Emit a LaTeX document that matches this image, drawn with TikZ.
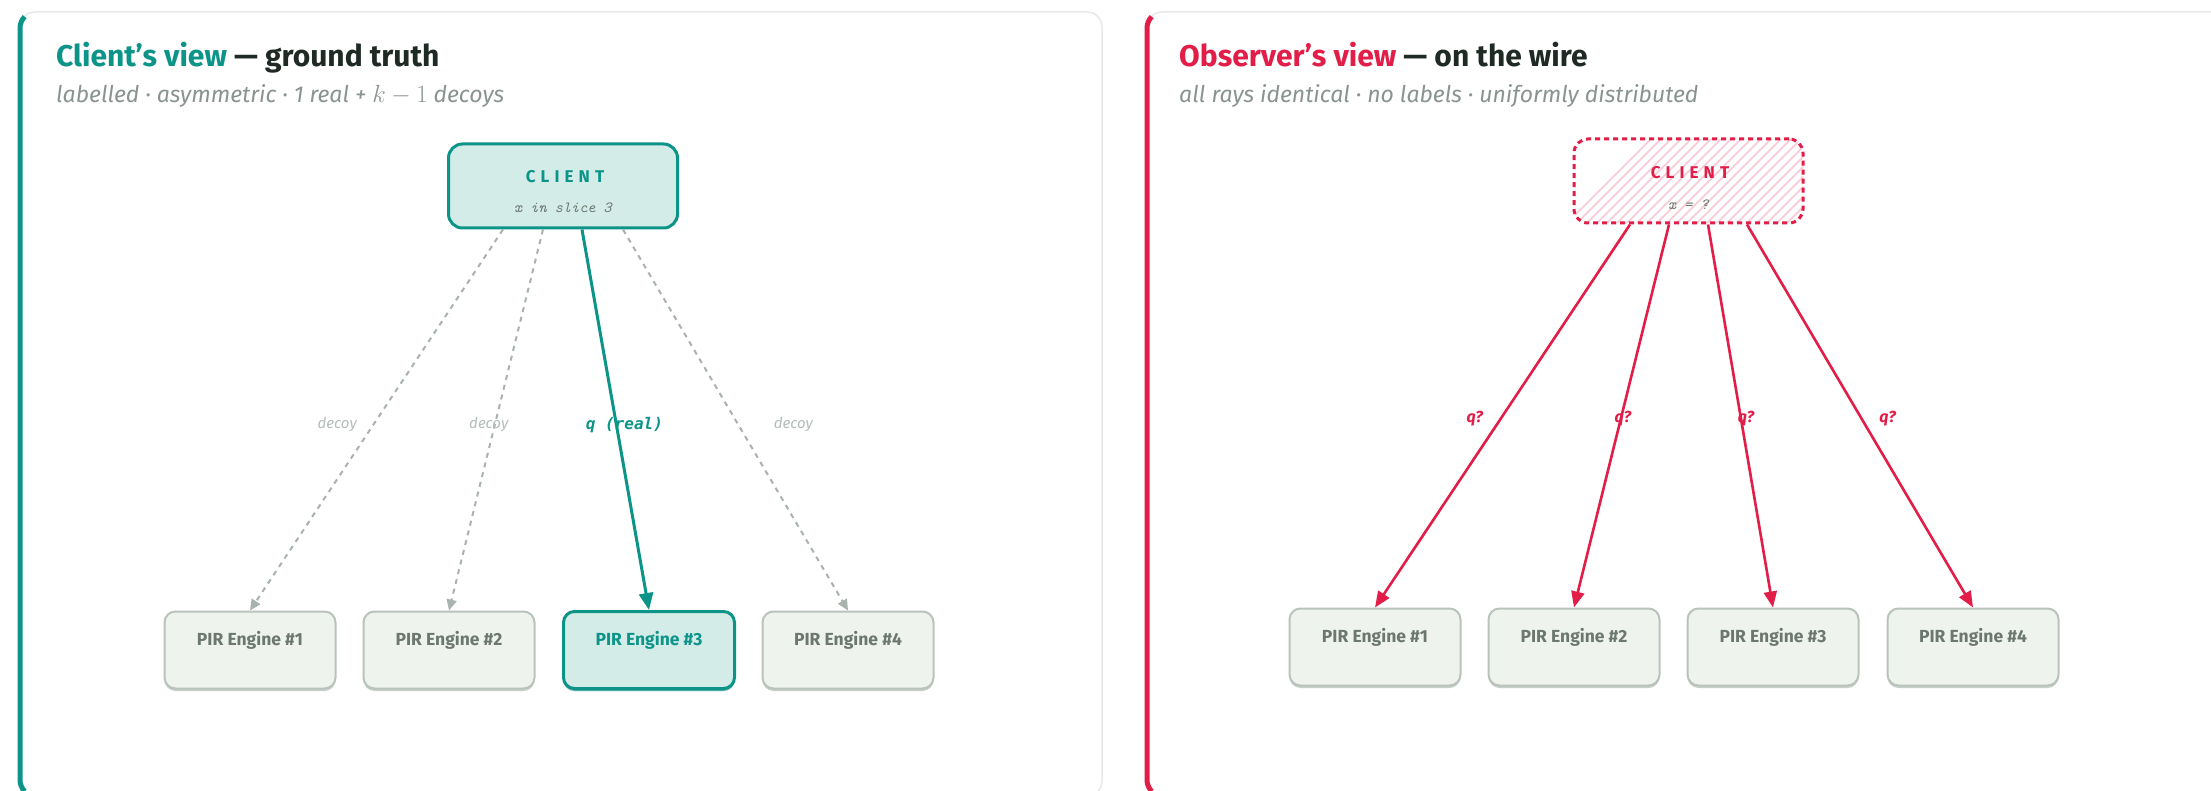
\documentclass[tikz,border=0pt]{standalone}
\usepackage{fontspec}
\setmainfont{Fira Sans}
\newfontfamily\codefont{DejaVu Sans Mono}
\usetikzlibrary{arrows.meta,calc,shadows}

\definecolor{tealc}{HTML}{0D9488}
\definecolor{rosec}{HTML}{E11D48}
\definecolor{ink}{HTML}{1F2A24}
\definecolor{muted}{HTML}{8A948E}
\definecolor{engfill}{HTML}{EEF3EE}
\definecolor{engdraw}{HTML}{B9C3BC}
\definecolor{engtext}{HTML}{6B7770}
\definecolor{clfill}{HTML}{D3ECE8}
\definecolor{decoyc}{HTML}{A9B3AD}
\definecolor{decoytext}{HTML}{B4BDB7}
\definecolor{hatch}{HTML}{F9C9D5}
\definecolor{panelline}{HTML}{E6E9EC}
\definecolor{shadowc}{HTML}{C8CFCA}

\tikzset{
  panel/.style={draw=panelline, line width=1.5pt, fill=white, rounded corners=15pt},
  titletext/.style={anchor=base west, inner sep=0pt, font=\fontsize{30}{33}\selectfont\bfseries, text=ink},
  subtext/.style={anchor=base west, inner sep=0pt, font=\fontsize{23}{26}\selectfont\itshape, text=muted},
  clientbox/.style={rounded corners=14pt, minimum width=229pt, minimum height=84pt, inner sep=0pt},
  engine/.style={draw=engdraw, line width=2pt, fill=engfill, rounded corners=11pt,
    minimum width=171pt, minimum height=77pt, inner sep=0pt, text height=12pt, text depth=21pt,
    font=\fontsize{17.5}{20}\selectfont\bfseries, text=engtext,
    general shadow={fill=shadowc, shadow yshift=-2.5pt}},
  hotengine/.style={engine, draw=tealc, line width=3pt, fill=clfill, text=tealc,
    general shadow={fill=tealc!70, shadow yshift=-2.5pt}},
  decoyarrow/.style={draw=decoyc, line width=2pt, dash pattern=on 5pt off 5pt,
    -{Triangle[length=11pt, width=10pt, fill=decoyc]}},
  realarrow/.style={draw=tealc, line width=3pt, -{Triangle[length=17pt, width=14pt]}},
  wirearrow/.style={draw=rosec, line width=2.6pt, -{Triangle[length=16pt, width=13pt]}},
  decoylabel/.style={font=\fontsize{15}{17}\selectfont\itshape, text=decoytext, inner sep=0pt},
  reallabel/.style={font=\codefont\fontsize{16}{18}\selectfont\bfseries\itshape, text=tealc, inner sep=0pt},
  wirelabel/.style={font=\fontsize{16}{18}\selectfont\bfseries\itshape, text=rosec, inner sep=0pt},
  capsline/.style={font=\fontsize{17}{19}\selectfont\bfseries\addfontfeature{LetterSpace=30}, inner sep=0pt},
  monoline/.style={font=\ttfamily\itshape\fontsize{15.5}{17}\selectfont, text=engtext, inner sep=0pt},
}

\begin{document}
\begin{tikzpicture}[x=1pt, y=-1pt]
\useasboundingbox (0,0) rectangle (2211,791);
\fill[white] (0,0) rectangle (2211,791);

% ---------- panels ----------
\draw[panel] (20,12) rectangle (1102,796);
\draw[panel] (1147,12) rectangle (2240,796);
% coloured left edges
\draw[tealc, line width=5pt]
  (24.7,791.3) .. controls (21.7,788.3) and (20,784.2) .. (20,780)
  -- (20,28) .. controls (20,23.8) and (21.7,19.7) .. (24.7,16.7);
\draw[rosec, line width=5pt]
  (1151.7,791.3) .. controls (1148.7,788.3) and (1147,784.2) .. (1147,780)
  -- (1147,28) .. controls (1147,23.8) and (1148.7,19.7) .. (1151.7,16.7);

% ---------- headings ----------
\node[titletext] (t1) at (56,67) {\textcolor{tealc}{Client’s view} — ground truth};
\node[subtext] (s1) at (56,103) {labelled · asymmetric · 1 real + {\fontsize{27}{30}\selectfont$k-1$} decoys};
\node[titletext] (t2) at (1179,67) {\textcolor{rosec}{Observer’s view} — on the wire};
\node[subtext] (s2) at (1179,103) {all rays identical · no labels · uniformly distributed};

% ---------- client's view ----------
\node[clientbox, draw=tealc, line width=3pt, fill=clfill] (cl) at (563,186) {};
\node[capsline, text=tealc] (clname) at (565,177) {CLIENT};
\node[monoline] (clx) at (563,208) {x in slice 3};

\node[engine]    (a1) at (250,650) {PIR Engine \#1};
\node[engine]    (a2) at (449,650) {PIR Engine \#2};
\node[hotengine] (a3) at (649,650) {PIR Engine \#3};
\node[engine]    (a4) at (848,650) {PIR Engine \#4};

\draw[decoyarrow] ($(cl.south)+(-60,0)$) -- (a1.north)
  node[decoylabel, pos=0.513, xshift=-36pt] (d1) {decoy};
\draw[decoyarrow] ($(cl.south)+(-20,0)$) -- (a2.north)
  node[decoylabel, pos=0.513, xshift=-6pt] (d2) {decoy};
\draw[decoyarrow] ($(cl.south)+(60,0)$) -- (a4.north)
  node[decoylabel, pos=0.513, xshift=55pt] (d4) {decoy};
\draw[realarrow] ($(cl.south)+(19,0)$) -- (a3.north)
  node[reallabel, pos=0.513, xshift=8pt] (q3) {q (real)};

% ---------- observer's view ----------
\node[clientbox, fill=white] (ob) at (1688.5,181) {};
\begin{scope}
  \clip[rounded corners=14pt] (ob.south west) rectangle (ob.north east);
  \foreach \k in {0,...,34} {
    \draw[hatch, line width=1.5pt] (1560+10*\k,230) -- ++(100,-100);
  }
\end{scope}
\node[clientbox, draw=rosec, line width=3pt, dash pattern=on 5pt off 4pt] (obf) at (1688.5,181) {};
\node[capsline, text=rosec] (obname) at (1690,173) {CLIENT};
\node[monoline] (obx) at (1688.5,205) {x = ?};

\node[engine] (b1) at (1375,647) {PIR Engine \#1};
\node[engine] (b2) at (1574,647) {PIR Engine \#2};
\node[engine] (b3) at (1773,647) {PIR Engine \#3};
\node[engine] (b4) at (1973,647) {PIR Engine \#4};

\draw[wirearrow] ($(obf.south)+(-58.5,0)$) -- (b1.north)
  node[wirelabel, pos=0.507, xshift=-26pt] (w1) {q?};
\draw[wirearrow] ($(obf.south)+(-19.5,0)$) -- (b2.north)
  node[wirelabel, pos=0.507, xshift=2pt] (w2) {q?};
\draw[wirearrow] ($(obf.south)+(19.5,0)$) -- (b3.north)
  node[wirelabel, pos=0.507, xshift=5pt] (w3) {q?};
\draw[wirearrow] ($(obf.south)+(58.5,0)$) -- (b4.north)
  node[wirelabel, pos=0.507, xshift=26pt] (w4) {q?};
\end{tikzpicture}
\end{document}
